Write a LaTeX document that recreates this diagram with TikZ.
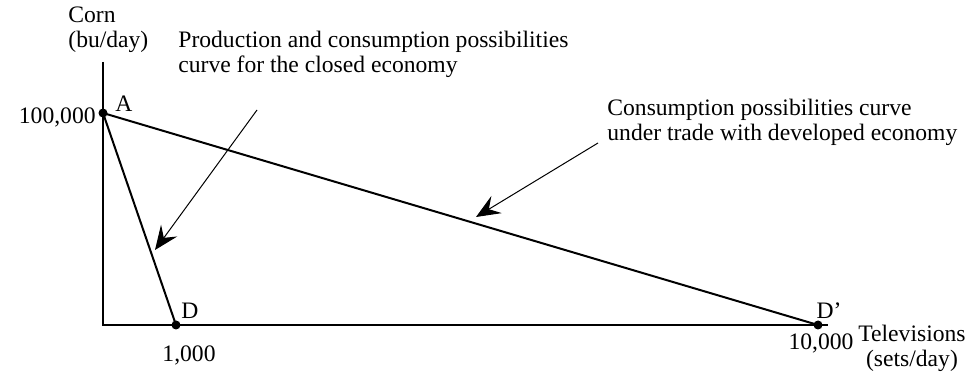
\documentclass[tikz,border=0pt]{standalone}
\usepackage{fontspec}
\setmainfont{Liberation Serif}
\usetikzlibrary{arrows.meta}
\definecolor{ink}{HTML}{000000}
\definecolor{paper}{HTML}{FFFFFF}
\tikzset{
  axis/.style={draw=ink, line width=1pt},
  curve/.style={draw=ink, line width=1pt, line cap=round},
  pointer/.style={draw=ink, line width=0.5pt, -{Stealth[length=12pt,width=10pt,inset=4.5pt]}},
  dot/.style={circle, fill=ink, inner sep=0pt, minimum size=4.5pt},
  lab/.style={text=ink, font=\fontsize{11.8}{12.4}\selectfont, inner sep=0pt},
}

\begin{document}
\begin{tikzpicture}[x=0.5pt,y=-0.5pt]
  \useasboundingbox[fill=paper] (0,0) rectangle (968,373);

  % axes
  \coordinate (O) at (103,325);
  \coordinate (ytop) at (103,62);
  \coordinate (xend) at (828,325);
  \draw[axis] (ytop) -- (O) -- (xend);

  % points and curves
  \node[dot] (A) at (103,113) {};
  \node[dot] (D) at (176,325) {};
  \node[dot] (Dp) at (818,325) {};
  \draw[curve] (A.center) -- (D.center);
  \draw[curve] (A.center) -- (Dp.center);

  \node[lab] (labA) at (124,104) {A};
  \node[lab] (labD) at (190,311) {D};
  \node[lab] (labDp) at (829,311) {D'};

  % axis labels
  \node[lab, anchor=west, align=left] (ylab) at (68,30) {Corn\\(bu/day)};
  \node[lab, anchor=east] (ymax) at (96,117) {100,000};
  \node[lab] (xone) at (189,355) {1,000};
  \node[lab] (xmax) at (821,343) {10,000};
  \node[lab, anchor=west, align=center] (xlab) at (858,348) {Televisions\\(sets/day)};

  % curve labels
  \node[lab, anchor=west, align=left] (prod) at (178,54) {Production and consumption possibilities\\curve for the closed economy};
  \node[lab, anchor=west, align=left] (cons) at (607,122) {Consumption possibilities curve\\under trade with developed economy};

  \coordinate (prodtail) at (257,110);
  \coordinate (prodtip) at (155,250);
  \coordinate (constail) at (598,143);
  \coordinate (constip) at (476,217);
  \draw[pointer] (prodtail) -- (prodtip);
  \draw[pointer] (constail) -- (constip);
\end{tikzpicture}
\end{document}
